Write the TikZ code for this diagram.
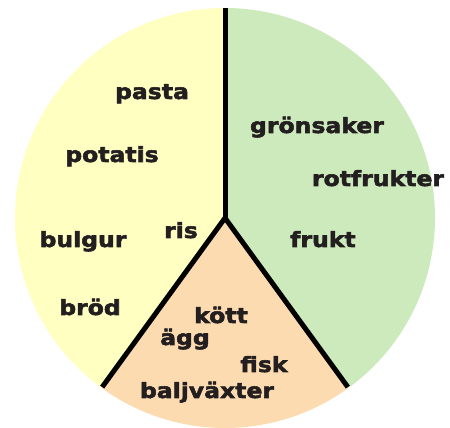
\documentclass[tikz,border=0pt]{standalone}
\usepackage{fontspec}
\usetikzlibrary{calc}
\newfontfamily\lab{DejaVu Sans Bold}[FakeStretch=1.12,FakeBold=2.5]
\definecolor{yel}{HTML}{FFFFC2}
\definecolor{grn}{HTML}{CCEABB}
\definecolor{org}{HTML}{FDDBB1}
\definecolor{ink}{HTML}{231F20}
\begin{document}
\begin{tikzpicture}[x=1pt,y=1pt,
  word/.style={anchor=base,inner sep=0pt,text=ink,font=\lab\fontsize{21}{23}\selectfont},
  divider/.style={line width=5pt,black}]
\useasboundingbox (0,0) rectangle (450,428);
\coordinate (C) at (225,210);
\coordinate (T) at ($(C)+(90:210)$);
\coordinate (L) at ($(C)+(234:209)$);
\coordinate (R) at ($(C)+(306:209)$);
\fill[yel] (C) -- (T) arc[start angle=90,end angle=234,radius=210] -- cycle;
\fill[org] (C) -- ($(C)+(234:210)$) arc[start angle=234,end angle=306,radius=210] -- cycle;
\fill[grn] (C) -- ($(C)+(306:210)$) arc[start angle=306,end angle=450,radius=210] -- cycle;
\draw[divider] (T) -- (C);
\draw[divider] (C) -- (L);
\draw[divider] (C) -- (R);
\node[word] (pasta) at (152,329) {pasta};
\node[word] (grons) at (317,295) {grönsaker};
\node[word] (potatis) at (112,266) {potatis};
\node[word] (rotf) at (378,242) {rotfrukter};
\node[word] (ris) at (181,190) {ris};
\node[word] (bulgur) at (83,181) {bulgur};
\node[word] (frukt) at (323,181) {frukt};
\node[word] (brod) at (90,113) {bröd};
\node[word] (kott) at (221,105) {kött};
\node[word] (agg) at (185,83) {ägg};
\node[word] (fisk) at (264,56) {fisk};
\node[word] (balj) at (207,30) {baljväxter};
\end{tikzpicture}
\end{document}
